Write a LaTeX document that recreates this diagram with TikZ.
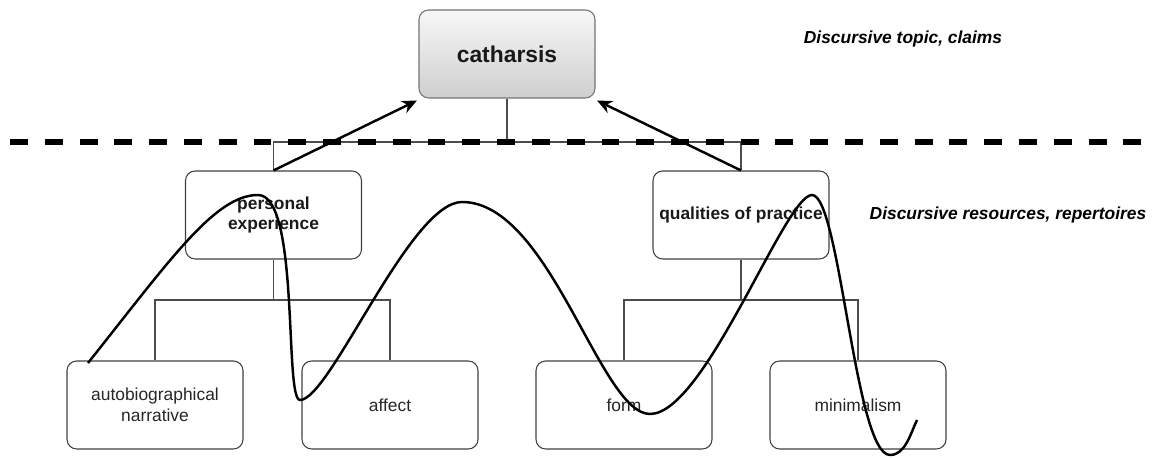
\documentclass[tikz,border=0pt]{standalone}
\usepackage{fontspec}
\setmainfont{Liberation Sans}
\usetikzlibrary{arrows.meta}

\begin{document}
\begin{tikzpicture}[
  box/.style={rectangle,draw=black!75,line width=0.6pt,rounded corners=5.5pt,minimum width=3.52cm,minimum height=1.76cm,align=center,inner sep=1pt,font=\fontsize{9.9}{11.9}\selectfont,text=black!85},
  boldbox/.style={box,font=\fontsize{9.9}{11.9}\selectfont\bfseries,text=black!90},
  tree/.style={draw=black!70,line width=0.6pt},
  up/.style={line width=1.4pt,-{Stealth[length=8.5pt,width=7.5pt]}},
  lvl/.style={font=\fontsize{9.9}{11.9}\selectfont\bfseries\itshape}]
\useasboundingbox (0,0) rectangle (23.06,9.16);
% claims level
\node[box,draw=black!55,top color=gray!6,bottom color=gray!38,font=\fontsize{13}{15}\selectfont\bfseries,text=black!90] (cath) at (10.14,8.08) {catharsis};
\node[lvl] (topic) at (18.06,8.38) {Discursive topic, claims};
% resources
\node[boldbox] (pers) at (5.47,4.86) {personal\\experience};
\node[boldbox] (qual) at (14.82,4.86) {qualities of practice};
\node[lvl] (res) at (20.16,4.86) {Discursive resources, repertoires};
\node[box] (auto) at (3.10,1.06) {autobiographical\\narrative};
\node[box] (aff) at (7.80,1.06) {affect};
\node[box] (form) at (12.48,1.06) {form};
\node[box] (mini) at (17.16,1.06) {minimalism};
% tree
\coordinate (top) at (cath.south |- 0,6.32);
\coordinate (pj) at (pers.south |- 0,3.16);
\coordinate (qj) at (qual.south |- 0,3.16);
\draw[tree] (cath.south) -- (top) (pers.north) |- (top) -| (qual.north);
\draw[tree] (pers.south) -- (pj) (auto.north) |- (pj) -| (aff.north);
\draw[tree] (qual.south) -- (qj) (form.north) |- (qj) -| (mini.north);
% split line
\coordinate (dl) at (0.2,6.32);\coordinate (dr) at (23.06,6.32);
\draw[line width=3pt,dash pattern=on 10.2pt off 9.6pt] (dl) -- (dr);
\draw[up] (pers.north) -- ([shift={(-0.03,-0.04)}]cath.south west);
\draw[up] (qual.north) -- ([shift={(0.03,-0.04)}]cath.south east);
% wave
\draw[line width=1.4pt] (1.76,1.90) .. controls (3.40,3.96) and (4.30,5.26) .. (5.16,5.26)
  .. controls (6.00,5.26) and (5.68,1.16) .. (6.00,1.16)
  .. controls (6.60,1.16) and (8.20,5.12) .. (9.24,5.12)
  .. controls (11.00,5.12) and (12.00,0.88) .. (13.00,0.88)
  .. controls (14.10,0.88) and (15.70,5.26) .. (16.24,5.26)
  .. controls (16.80,5.26) and (17.10,0.06) .. (17.80,0.06)
  .. controls (18.10,0.06) and (18.20,0.46) .. (18.34,0.76);
\end{tikzpicture}
\end{document}
